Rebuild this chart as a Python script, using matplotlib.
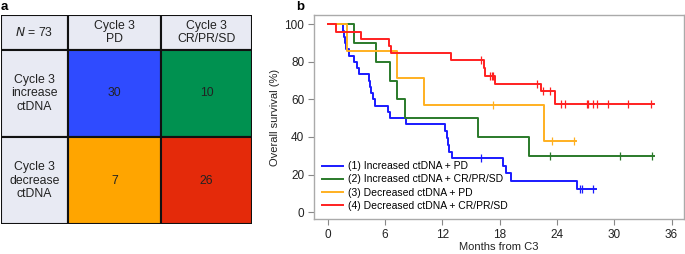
import matplotlib
matplotlib.use("Agg")
import matplotlib.pyplot as plt
from matplotlib.patches import Rectangle

plt.rcParams['font.family'] = ['Liberation Sans', 'DejaVu Sans']

# panel a: contingency table
col_heads = ['Cycle 3\nPD', 'Cycle 3\nCR/PR/SD']
row_heads = ['Cycle 3\nincrease\nctDNA', 'Cycle 3\ndecrease\nctDNA']
counts = [[30, 10], [7, 26]]
cell_cols = [['#2f4bff', '#009150'], ['#ffa500', '#e42a0a']]

# panel b: Kaplan-Meier steps (times in months, survival in %)
groups = ['(1) Increased ctDNA + PD', '(2) Increased ctDNA + CR/PR/SD',
          '(3) Decreased ctDNA + PD', '(4) Decreased ctDNA + CR/PR/SD']
line_cols = ['#1a1aff', '#2a7a2a', '#ffb020', '#ff2020']

t1 = [0, 1.65, 1.75, 1.85, 1.95, 2.2, 2.75, 3.05, 3.25, 4.3, 4.4, 4.55, 4.75, 4.95,
      6.3, 6.5, 8.2, 12.3, 12.45, 12.6, 12.75, 13.0, 18.4, 18.7, 19.2, 26.1, 28.1]
s1 = [100, 96.7, 93.3, 90, 86.7, 83.3, 80, 76.7, 73.3, 70, 66.7, 63.3, 60, 56.7,
      53.3, 50, 46.7, 43.3, 39.7, 35.9, 32.2, 28.6, 24.7, 20.6, 16.3, 12.3, 12.3]
c1 = [16.1, 26.4, 26.6, 27.8]

t2 = [0, 2.78, 5.1, 6.57, 7.3, 8.14, 15.7, 21.1, 34.2]
s2 = [100, 90, 80, 70, 60, 50, 40, 30, 30]
c2 = [23.3, 30.6, 33.9]

t3 = [0, 2.0, 7.27, 10.1, 22.6, 26.0]
s3 = [100, 85.7, 71.4, 57.1, 38.1, 38.1]
c3 = [17.3, 23.5, 25.8]

t4 = [0, 0.9, 3.5, 6.43, 6.68, 12.9, 16.4, 16.5, 17.5, 22.3, 23.8, 34.2]
s4 = [100, 96.2, 92.3, 88.5, 84.6, 80.8, 76.5, 72.6, 68.2, 64.7, 57.4, 57.4]
c4 = [16.0, 17.0, 17.15, 17.3, 21.9, 22.5, 23.3, 24.4, 24.8, 27.1, 27.3, 27.8,
      28.2, 29.3, 31.4, 33.8]

curves = [(t1, s1, c1), (t2, s2, c2), (t3, s3, c3), (t4, s4, c4)]


def surv_at(t, s, x):
    v = s[0]
    for ti, si in zip(t, s):
        if ti <= x:
            v = si
    return v


fig = plt.figure(figsize=(6.85, 2.54), dpi=100)

# ---- panel a
axa = fig.add_axes([1 / 685, 30 / 254, 251 / 685, 209 / 254])
axa.set_xlim(0, 251)
axa.set_ylim(209, 0)
axa.axis('off')
xs = [0, 67, 160, 251]
ys = [0, 35, 122, 209]
head_col = '#e8eaf3'
for r in range(3):
    for c in range(3):
        if r == 0 or c == 0:
            fc = head_col
        else:
            fc = cell_cols[r - 1][c - 1]
        axa.add_patch(Rectangle((xs[c], ys[r]), xs[c + 1] - xs[c], ys[r + 1] - ys[r],
                                facecolor=fc, edgecolor='#111111', lw=1.5))
        cx = (xs[c] + xs[c + 1]) / 2
        cy = (ys[r] + ys[r + 1]) / 2
        if r == 0 and c == 0:
            txt = '$\\it{N}$ = 73'
        elif r == 0:
            txt = col_heads[c - 1]
        elif c == 0:
            txt = row_heads[r - 1]
        else:
            txt = str(counts[r - 1][c - 1])
        axa.text(cx, cy, txt, ha='center', va='center', fontsize=8.8, color='#222222',
                 linespacing=1.2)
fig.text(1 / 685, 1 - 7 / 254, 'a', fontsize=9.5, fontweight='bold', va='center')

# ---- panel b
axb = fig.add_axes([314 / 685, 35 / 254, 370 / 685, 204 / 254])
for (t, s, cens), col, lab in zip(curves, line_cols, groups):
    axb.step(t, s, where='post', color=col, lw=1.4, label=lab)
    axb.plot(cens, [surv_at(t, s, x) for x in cens], '|', color=col, ms=6, mew=0.9)

axb.set_xlim(-1.43, 37.3)
axb.set_ylim(-3.7, 105)
axb.set_xticks(range(0, 37, 6))
axb.set_yticks(range(0, 101, 20))
axb.tick_params(labelsize=8.5, colors='#222222', length=4, width=0.8, pad=3)
axb.tick_params(axis='both', color='#888888')
for sp in axb.spines.values():
    sp.set_color('#aaaaaa')
    sp.set_linewidth(1.0)
axb.set_xlabel('Months from C3', fontsize=8, color='#222222', labelpad=1)
axb.set_ylabel('Overall survival (%)', fontsize=8, color='#222222', labelpad=3)
axb.legend(loc='lower left', frameon=False, fontsize=7.5, handlelength=2.0,
           borderaxespad=0.4, labelspacing=0.3, handletextpad=0.5,
           bbox_to_anchor=(0.0, 0.0))
fig.text(296 / 685, 1 - 7 / 254, 'b', fontsize=9.5, fontweight='bold', va='center')

fig.savefig('out.png', dpi=100)
